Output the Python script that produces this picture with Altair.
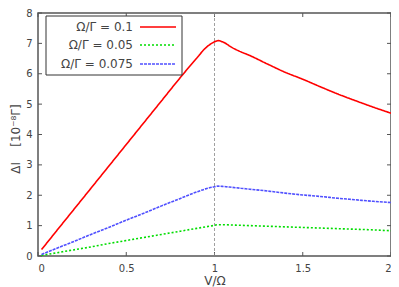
import altair as alt
import pandas as pd

V = [0.02, 0.1, 0.2, 0.3, 0.4, 0.5, 0.6, 0.7, 0.8, 0.9, 0.95, 1.0, 1.02, 1.05, 1.1,
     1.15, 1.2, 1.3, 1.4, 1.5, 1.6, 1.7, 1.8, 1.9, 2.0]
red = [0.21, 0.79, 1.51, 2.23, 2.95, 3.67, 4.39, 5.11, 5.83, 6.52, 6.85, 7.05, 7.09, 7.04, 6.86,
       6.72, 6.6, 6.32, 6.05, 5.82, 5.57, 5.33, 5.11, 4.9, 4.7]
green = [0.02, 0.1, 0.2, 0.3, 0.41, 0.51, 0.61, 0.71, 0.81, 0.91, 0.96, 1.01, 1.03, 1.03, 1.02,
         1.01, 1.0, 0.98, 0.96, 0.94, 0.92, 0.9, 0.88, 0.86, 0.83]
blue = [0.05, 0.24, 0.47, 0.71, 0.94, 1.18, 1.41, 1.65, 1.88, 2.11, 2.21, 2.28, 2.3, 2.29, 2.26,
        2.23, 2.2, 2.14, 2.07, 2.01, 1.96, 1.9, 1.85, 1.8, 1.76]
labels = ["Ω/Γ = 0.1", "Ω/Γ = 0.05", "Ω/Γ = 0.075"]
colors = ["#ff0000", "#00dd00", "#5050ff"]
dashes = [[1, 0], [2, 2], [3, 1]]
x_ticks = [0, 0.5, 1, 1.5, 2]
y_ticks = [0, 1, 2, 3, 4, 5, 6, 7, 8]

W, H = 353, 243
FONT = "DejaVu Sans"
GRAY = "#555555"

xs = alt.Scale(domain=[0, 2], nice=False, zero=False)
ys = alt.Scale(domain=[0, 8], nice=False, zero=False)

xax = alt.Axis(
    values=x_ticks, format="~g", title="V/Ω", ticks=False, domain=False, grid=False,
    labelPadding=7, titleY=24, titleBaseline="middle", titleFont=FONT, labelOverlap=False,
    titleFontSize=12, titleFontWeight="normal", titleColor="#444444")
yax = alt.Axis(
    values=y_ticks, title="ΔI\u00a0\u00a0\u00a0\u00a0[10⁻⁸Γ]", ticks=False, domain=False, grid=False,
    labelPadding=6, labelOverlap=False, titleX=-23, titleY=H / 2 + 4, titleAngle=270,
    titleBaseline="middle", titleAlign="center", titleFont=FONT, titleFontSize=12,
    titleFontWeight="normal", titleColor="#444444")

series = [red, green, blue]
layers = []

# inward ticks
xt = pd.DataFrame({"t": x_ticks})
yt = pd.DataFrame({"t": y_ticks})
tick_style = dict(color=GRAY, strokeWidth=1)
layers.append(alt.Chart(xt).mark_rule(**tick_style).encode(
    x=alt.X("t:Q", scale=xs, axis=xax), y=alt.value(H), y2=alt.value(H - 4)))
layers.append(alt.Chart(xt).mark_rule(**tick_style).encode(
    x=alt.X("t:Q", scale=xs, axis=xax), y=alt.value(0), y2=alt.value(4)))
layers.append(alt.Chart(yt).mark_rule(**tick_style).encode(
    y=alt.Y("t:Q", scale=ys, axis=yax), x=alt.value(0), x2=alt.value(4)))
layers.append(alt.Chart(yt).mark_rule(**tick_style).encode(
    y=alt.Y("t:Q", scale=ys, axis=yax), x=alt.value(W), x2=alt.value(W - 4)))

# vertical dashed line at V = 1
layers.append(alt.Chart(pd.DataFrame({"v": [1.0]})).mark_rule(
    color="#888888", strokeWidth=0.8, strokeDash=[3, 2]).encode(
    x=alt.X("v:Q", scale=xs, axis=xax)))

# data lines
for s, c, d in zip(series, colors, dashes):
    df = pd.DataFrame({"V": V, "dI": s})
    layers.append(alt.Chart(df).mark_line(color=c, strokeWidth=1.6, strokeDash=d,
                                          interpolate="monotone").encode(
        x=alt.X("V:Q", scale=xs, axis=xax), y=alt.Y("dI:Q", scale=ys, axis=yax)))

# legend
layers.append(alt.Chart(pd.DataFrame({"a": [0]})).mark_rect(
    fill="white", stroke="#333333", strokeWidth=1).encode(
    x=alt.value(8), x2=alt.value(144), y=alt.value(3), y2=alt.value(62)))
row_y = [14, 32, 51]
for lab, c, d, yy in zip(labels, colors, dashes, row_y):
    layers.append(alt.Chart(pd.DataFrame({"t": [lab]})).mark_text(
        align="right", baseline="middle", font=FONT, fontSize=12, color="#444444").encode(
        text="t:N", x=alt.value(95), y=alt.value(yy)))
    layers.append(alt.Chart(pd.DataFrame({"t": [lab]})).mark_rule(
        color=c, strokeWidth=1.6, strokeDash=d).encode(
        x=alt.value(102), x2=alt.value(138), y=alt.value(yy)))

chart = alt.layer(*layers).properties(
    width=W, height=H,
    autosize=alt.AutoSizeParams(type="none"),
    padding={"left": 30, "top": 5, "right": 0, "bottom": 31},
).configure_view(stroke=GRAY, strokeWidth=1.5).configure_axis(
    labelFont=FONT, labelFontSize=10, labelColor="#444444"
)

chart.save("out.html", embed_options={"renderer": "svg", "actions": False})
